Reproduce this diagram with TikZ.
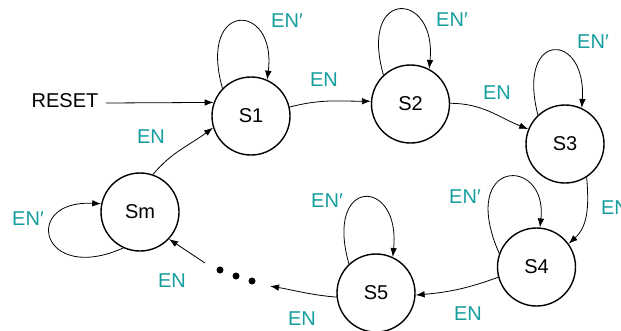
\documentclass[tikz,border=0pt]{standalone}
\usepackage{fontspec}
\setmainfont{Liberation Sans}
\usetikzlibrary{arrows.meta,calc}
\definecolor{labteal}{RGB}{22,158,158}
\begin{document}
\begin{tikzpicture}[x=1pt,y=1pt,
  state/.style={circle,draw,line width=1.4pt,minimum size=78pt,inner sep=0pt,font=\fontsize{20}{24}\selectfont},
  edge/.style={-{Latex[length=9pt,width=6.5pt]},line width=0.8pt},
  lab/.style={text=labteal,font=\fontsize{20}{24}\selectfont,inner sep=0pt},
  dotn/.style={circle,fill,inner sep=0pt,minimum size=7pt}]
\useasboundingbox (0,0) rectangle (621,-330);
\clip (0,0) rectangle (621,-330);
% states
\node[state] (S1) at (251,-116) {S1};
\node[state] (S2) at (410.5,-104) {S2};
\node[state] (S3) at (565,-144) {S3};
\node[state] (S4) at (536.5,-267) {S4};
\node[state] (S5) at (376,-293) {S5};
\node[state] (Sm) at (140,-212) {Sm};
% reset
\node[font=\fontsize{20}{24}\selectfont,inner sep=0pt] (rst) at (65,-101) {RESET};
\coordinate (rs) at (106,-103);
% dots
\node[dotn] (d1) at (220,-270) {};
\node[dotn] (d2) at (236,-276) {};
\node[dotn] (d3) at (252,-281) {};
\coordinate (dR) at (270,-286);
\coordinate (dL) at (205,-263);
% transitions
\draw[edge] (rs) -- (S1.160);
\draw[edge] (S1.13) to[out=15,in=180] (S2.176);
\draw[edge] (S2.1) to[out=0,in=158] (S3.158);
\draw[edge] (S3.-57) to[out=-85,in=42] (S4.36);
\draw[edge] (S4.195) to[out=200,in=5] (S5.-3);
\draw[edge] (S5.186) to[out=175,in=-10] (dR);
\draw[edge] (dL) -- (Sm.-43);
\draw[edge] (Sm.71) to[out=50,in=217] (S1.197);
% self loops
\draw[edge] (S1.136) .. controls ($(S1.136)+(-25,89)$) and ($(S1.66)+(10,78)$) .. (S1.66);
\draw[edge] (S2.133) .. controls ($(S2.133)+(-25,88)$) and ($(S2.62)+(8,78)$) .. (S2.62);
\draw[edge] (S3.133) .. controls ($(S3.133)+(-22,85)$) and ($(S3.65)+(5,77)$) .. (S3.65);
\draw[edge] (S4.160) .. controls ($(S4.160)+(-42,96)$) and ($(S4.85)+(8,72)$) .. (S4.85);
\draw[edge] (S5.133) .. controls ($(S5.133)+(-25,88)$) and ($(S5.65)+(8,80)$) .. (S5.65);
\draw[edge] (Sm.245) .. controls ($(Sm.245)+(-83,-37)$) and ($(Sm.168)+(-80,4)$) .. (Sm.168);
% labels
\node[lab] (l12) at (324,-80) {EN};
\node[lab] (l23) at (497,-93) {EN};
\node[lab] (l34) at (615,-208) {EN};
\node[lab] (l45) at (468,-314) {EN};
\node[lab] (l5d) at (302,-319) {EN};
\node[lab] (ldm) at (172,-281) {EN};
\node[lab] (lm1) at (151,-137) {EN};
\node[lab] (o1) at (287,-21) {EN′};
\node[lab] (o2) at (452,-20) {EN′};
\node[lab] (o3) at (593,-42) {EN′};
\node[lab] (o4) at (465,-197) {EN′};
\node[lab] (o5) at (327,-201) {EN′};
\node[lab] (om) at (28,-219) {EN′};
\end{tikzpicture}
\end{document}
